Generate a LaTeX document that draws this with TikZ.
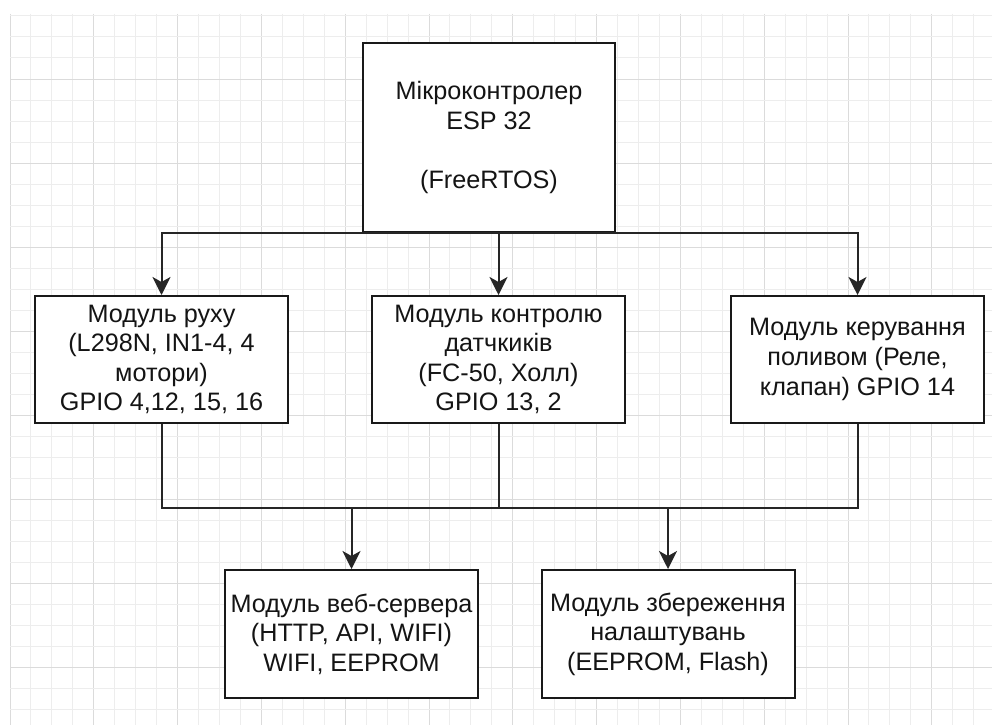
\documentclass[tikz,border=0pt]{standalone}
\usepackage{fontspec}
\setmainfont{Liberation Sans}
\usetikzlibrary{arrows.meta}
\begin{document}
\begin{tikzpicture}[x=1pt,y=-1pt,
  box/.style={draw=black!90, line width=2pt, fill=white, rectangle,
    minimum width=253pt, minimum height=127pt, inner sep=0pt, align=center,
    font=\fontsize{25.2}{29.6}\selectfont, text=black!92},
  wire/.style={draw=black!85, line width=2pt},
  arr/.style={wire, -{Stealth[length=18pt,width=18pt,inset=5pt]}},
  gridminor/.style={draw=black!7, line width=1pt},
  gridmajor/.style={draw=black!14, line width=1pt}]
\useasboundingbox[fill=white] (0,0) rectangle (992,725);
% background grid
\foreach \k in {0,...,46} {
  \pgfmathtruncatemacro{\m}{mod(\k,4)}
  \ifnum\m=0
    \draw[gridmajor] (10+\k*20.95,14) -- (10+\k*20.95,725);
  \else
    \draw[gridminor] (10+\k*20.95,14) -- (10+\k*20.95,725);
  \fi
}
\foreach \k in {0,...,33} {
  \pgfmathtruncatemacro{\m}{mod(\k,4)}
  \ifnum\m=3
    \draw[gridmajor] (10,16+\k*21) -- (992,16+\k*21);
  \else
    \draw[gridminor] (10,16+\k*21) -- (992,16+\k*21);
  \fi
}
% nodes
\node[box, minimum width=252pt, minimum height=189pt] (esp) at (489,137.5)
  {Мікроконтролер\\ESP 32\\~\\(FreeRTOS)};
\node[box] (mv) at (161.5,359.5)
  {Модуль руху\\(L298N, IN1-4, 4\\мотори)\\GPIO 4,12, 15, 16};
\node[box] (sens) at (498.5,359.5)
  {Модуль контролю\\датчкиків\\(FC-50, Холл)\\GPIO 13, 2};
\node[box] (pol) at (857.5,359.5)
  {Модуль керування\\поливом (Реле,\\клапан) GPIO 14};
\node[box, minimum height=128pt] (web) at (351.5,634)
  {Модуль веб-сервера\\(HTTP, API, WIFI)\\WIFI, EEPROM};
\node[box, minimum height=128pt] (store) at (668,634)
  {Модуль збереження\\налаштувань\\(EEPROM, Flash)};
% top bus
\coordinate (topbus) at (sens.north |- esp.south);
\draw[arr] (topbus) -| (mv.north);
\draw[arr] (topbus) -| (pol.north);
\draw[arr] (topbus) -- (sens.north);
% bottom bus
\coordinate (busy) at (0,508);
\draw[wire] (mv.south) |- (busy -| pol.south) -- (pol.south);
\draw[wire] (sens.south) -- (sens.south |- busy);
\draw[arr] (busy -| web.north) -- (web.north);
\draw[arr] (busy -| store.north) -- (store.north);
\end{tikzpicture}
\end{document}
